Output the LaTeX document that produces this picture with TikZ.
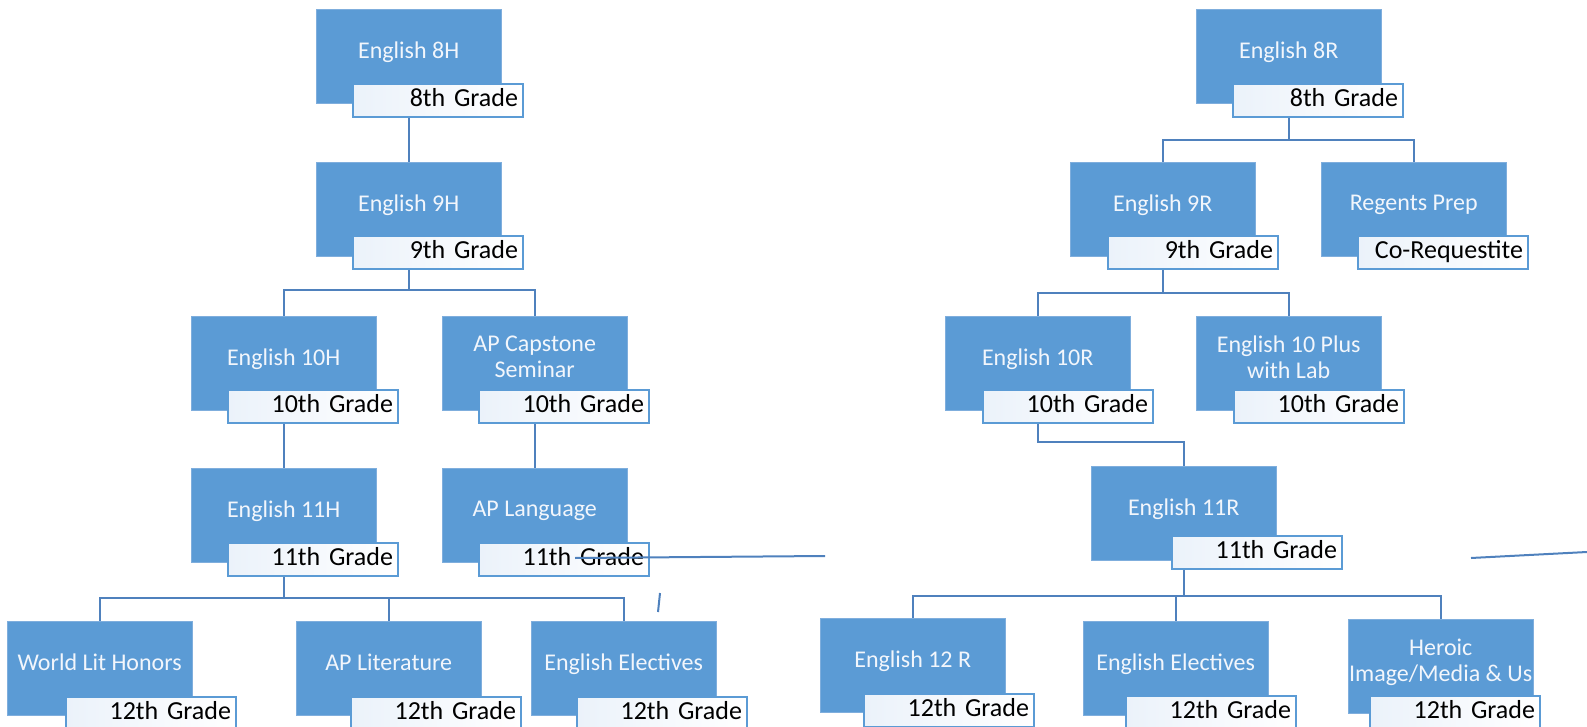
\documentclass[tikz,border=0pt]{standalone}
\usepackage{fontspec}
\setmainfont{Carlito}

\definecolor{boxblue}{HTML}{5B9BD5}
\definecolor{boxedge}{HTML}{7FAEDD}
\definecolor{linkblue}{HTML}{4F81BD}
\definecolor{tagblue}{HTML}{EBF2FA}
\definecolor{coursewhite}{HTML}{F2F6FC}

\begin{document}
\begin{tikzpicture}[x = 1pt, y = -1pt,
	course/.style = {draw = boxedge, fill = boxblue, anchor = north west, minimum width = 185pt, minimum height = 94pt, inner sep = 0pt, align = center, text = coursewhite, font = \fontsize{24}{26}\selectfont, text depth = 12pt},
	grade/.style = {draw = boxblue, line width = 2pt, left color = tagblue, right color = white, anchor = north west, minimum height = 33pt, text width = 160pt, inner xsep = 5pt, inner ysep = 0pt, align = right, text height = 17pt, text depth = 5pt, font = \fontsize{26}{28}\selectfont},
	link/.style = {draw = linkblue, line width = 2pt}]

	\useasboundingbox (0, 0) rectangle (1587, 727);

	% Honors track
	
	\node [course] (b8H) at (316, 9) {English 8H};
	\node [grade] (g8H) at (352, 83) {8th Grade};
	
	\node [course] (b9H) at (316, 162) {English 9H};
	\node [grade] (g9H) at (352, 235) {9th Grade};
	
	\node [course] (b10H) at (191, 316) {English 10H};
	\node [grade] (g10H) at (227, 389) {10th Grade};
	\node [course] (bCap) at (442, 316) {AP Capstone\\Seminar};
	\node [grade] (gCap) at (478, 389) {10th Grade};
	
	\node [course] (b11H) at (191, 468) {English 11H};
	\node [grade] (g11H) at (227, 542) {11th Grade};
	\node [course] (bLang) at (442, 468) {AP Language};
	\node [grade] (gLang) at (478, 542) {11th Grade};
	
	\node [course] (bWL) at (7, 621) {World Lit Honors};
	\node [grade] (gWL) at (65, 696) {12th Grade};
	\node [course] (bAPL) at (296, 621) {AP Literature};
	\node [grade] (gAPL) at (350, 696) {12th Grade};
	\node [course] (bEEl) at (531, 621) {English Electives};
	\node [grade] (gEEl) at (576, 696) {12th Grade};
	
	% Regents track
	
	\node [course] (b8R) at (1196, 9) {English 8R};
	\node [grade] (g8R) at (1232, 83) {8th Grade};
	
	\node [course] (b9R) at (1070, 162) {English 9R};
	\node [grade] (g9R) at (1107, 235) {9th Grade};
	\node [course] (bReg) at (1321, 162) {Regents Prep};
	\node [grade] (gReg) at (1357, 235) {Co-Requestite};
	
	\node [course] (b10R) at (945, 316) {English 10R};
	\node [grade] (g10R) at (982, 389) {10th Grade};
	\node [course] (bPlus) at (1196, 316) {English 10 Plus\\with Lab};
	\node [grade] (gPlus) at (1233, 389) {10th Grade};
	
	\node [course] (b11R) at (1091, 466) {English 11R};
	\node [grade] (g11R) at (1171, 535) {11th Grade};
	
	\node [course] (b12R) at (820, 618) {English 12 R};
	\node [grade] (g12R) at (863, 693) {12th Grade};
	\node [course] (bEEr) at (1083, 621) {English Electives};
	\node [grade] (gEEr) at (1125, 695) {12th Grade};
	\node [course] (bHer) at (1348, 619) {Heroic\\Image/Media \& Us};
	\node [grade] (gHer) at (1369, 695) {12th Grade};
	
	% Links, honors track
	
	\draw [link] (b8H.south |- g8H.south) -- (b9H.north);
	\draw [link] (b9H.south |- g9H.south) -- ++(0, 20) coordinate (k9H) -| (b10H.north);
	\draw [link] (k9H) -| (bCap.north);
	\draw [link] (b10H.south |- g10H.south) -- (b11H.north);
	\draw [link] (bCap.south |- gCap.south) -- (bLang.north);
	\draw [link] (b11H.south |- g11H.south) -- ++(0, 21) coordinate (k11H) -| (bWL.north);
	\draw [link] (k11H) -| (bAPL.north);
	\draw [link] (k11H) -| (bEEl.north);
	
	% Links, regents track
	
	\draw [link] (b8R.south |- g8R.south) -- ++(0, 22) coordinate (k8R) -| (b9R.north);
	\draw [link] (k8R) -| (bReg.north);
	\draw [link] (b9R.south |- g9R.south) -- ++(0, 23) coordinate (k9R) -| (b10R.north);
	\draw [link] (k9R) -| (bPlus.north);
	\draw [link] (b10R.south |- g10R.south) -- ++(0, 18) -| (b11R.north);
	\draw [link] (b11R.south |- g11R.south) -- ++(0, 26) coordinate (k11R) -| (b12R.north);
	\draw [link] (k11R) -| (bEEr.north);
	\draw [link] (k11R) -| (bHer.north);
	
	% Stray strokes
	
	\coordinate (sA) at (575, 558);
	\coordinate (sB) at (825, 556);
	\coordinate (sC) at (660, 593);
	\coordinate (sD) at (658, 612);
	\coordinate (sE) at (1471, 558);
	\coordinate (sF) at (1587, 552);
	\draw [link] (sA) -- (sB);
	\draw [link] (sC) -- (sD);
	\draw [link] (sE) -- (sF);

\end{tikzpicture}
\end{document}
